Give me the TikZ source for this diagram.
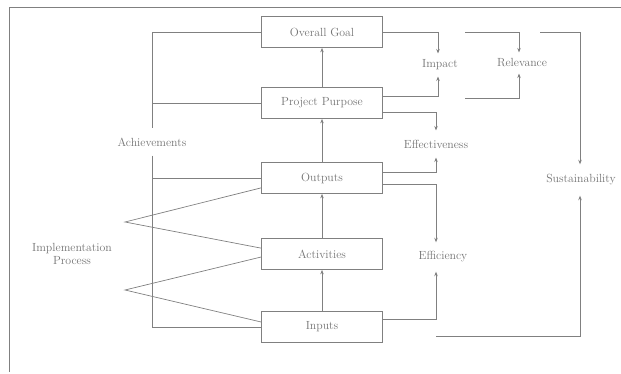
\documentclass[tikz,border=0pt]{standalone}
\usetikzlibrary{arrows.meta}
\definecolor{ln}{gray}{0.5}
\definecolor{tx}{gray}{0.45}
\begin{document}
\begin{tikzpicture}[x=1pt,y=-1pt,
  line width=0.7pt, color=ln,
  box/.style={draw=ln, minimum width=121pt, minimum height=31pt, inner sep=0pt,
    font=\fontsize{11.8}{13.5}\selectfont, text=tx},
  lbl/.style={inner sep=6pt, font=\fontsize{11.8}{13.5}\selectfont, text=tx, align=center},
  arr/.style={-{Stealth[length=4.5pt,width=3.5pt]}}]
\useasboundingbox (0,0) rectangle (621,374);
% page frame
\draw (9,372) -- (9,7) -- (621,7);

% result chain
\node[box] (og)  at (322,32)  {Overall Goal};
\node[box] (pp)  at (322,103) {Project Purpose};
\node[box] (out) at (322,178) {Outputs};
\node[box] (act) at (322,254) {Activities};
\node[box] (inp) at (322,327) {Inputs};

\draw[arr] (inp) -- (act);
\draw[arr] (act) -- (out);
\draw[arr] (out) -- (pp);
\draw[arr] (pp) -- (og);

% evaluation criteria
\node[lbl] (imp)  at (440,65)  {Impact};
\node[lbl] (rel)  at (522,63)  {Relevance};
\node[lbl, inner sep=9pt] (eff) at (436,144) {Effectiveness};
\node[lbl, inner sep=9pt] (effi) at (443,257) {Efficiency};
\node[lbl, inner sep=10pt] (sus) at (581,180) {Sustainability};

% left side labels
\node[lbl, inner sep=9pt] (ach) at (152,142) {Achievements};
\node[lbl, inner sep=2pt] (impl) at (72,254) {Implementation\\Process};

% achievements bracket
\draw (og.west) -| (ach.north);
\draw (ach.south) |- (inp.west);
\draw (pp.west) -- (pp.west -| ach.south);
\draw (out.west) -- (out.west -| ach.south);

% implementation process wedges
\coordinate (w1) at (125,222);
\coordinate (w2) at (125,290);
\draw ([yshift=6pt]out.south west) -- (w1) -- ([yshift=-10pt]act.north west);
\draw ([yshift=-3pt]act.west) -- (w2) -- ([yshift=5pt]inp.west);

% links to criteria
\draw[arr] (og.east) -| ([xshift=-2pt]imp.north);
\draw[arr] ([yshift=7pt]pp.east) -| ([xshift=-2pt]imp.south);
\draw[arr] ([yshift=-9pt]pp.east) -| (eff.north);
\draw[arr] ([yshift=6pt]out.east) -| (eff.south);
\draw[arr] ([yshift=-6pt]out.east) -| ([xshift=-7pt]effi.north);
\draw[arr] ([yshift=8pt]inp.east) -| ([xshift=-7pt]effi.south);

\coordinate (r1) at (465,32);
\coordinate (r2) at (465,98);
\draw[arr] (r1) -| ([xshift=-3pt]rel.north);
\draw[arr] (r2) -| ([xshift=-3pt]rel.south);

\coordinate (s1) at (540,32);
\coordinate (s2) at (436,336);
\draw[arr] (s1) -| ([xshift=-1pt]sus.north);
\draw[arr] (s2) -| ([xshift=-1pt]sus.south);
\end{tikzpicture}
\end{document}
